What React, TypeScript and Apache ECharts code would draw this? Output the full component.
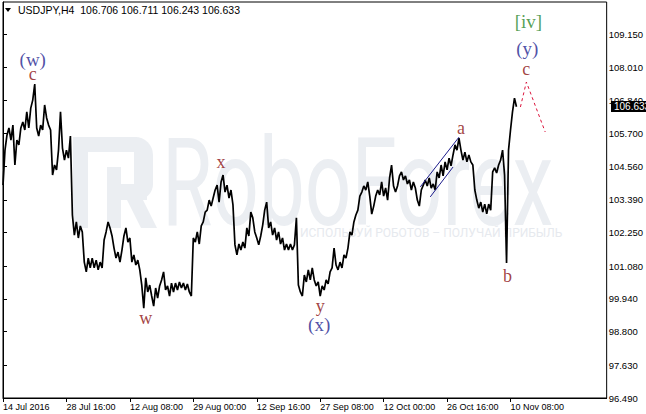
import React, { useEffect, useRef } from 'react';
import * as echarts from 'echarts';

const symbolName = 'USDJPY,H4';
const headerOHLC = ['106.706', '106.711', '106.243', '106.633'];
const lastPrice = 106.633;
const barsPerSample = 2;

const prices = [
  103.90, 105.12, 105.64, 105.89, 105.47, 105.99, 104.60, 105.47, 105.30, 105.89,
  106.10, 105.82, 106.45, 105.89, 106.58, 106.86, 107.42, 105.89, 105.61, 105.99,
  105.82, 106.69, 106.24, 105.99, 105.82, 104.25, 104.60, 104.43, 105.12, 106.45,
  105.19, 104.77, 105.12, 104.84, 105.61,
  102.86, 102.16, 102.62, 102.06, 102.48, 102.27, 101.22, 100.88, 101.36, 101.02,
  101.36, 101.02, 101.29, 100.95, 101.22, 101.02, 101.99, 102.27, 102.62, 102.41,
  102.13, 101.71, 101.36, 101.57, 101.22, 101.64, 102.13, 102.41, 101.92, 102.06,
  101.22, 101.47, 101.12, 101.29, 100.95,
  100.42, 99.62, 100.67, 100.18, 100.42, 100.04, 99.69, 100.32, 99.97, 100.39,
  100.60, 100.88, 100.25, 100.39, 100.04, 100.49, 100.18, 100.49, 100.25, 100.53,
  100.32, 100.49, 100.25, 100.46, 100.18, 100.04, 102.06, 101.92, 102.27, 101.85,
  102.48, 102.62, 102.96, 103.03, 103.38,
  103.17, 103.45, 103.73, 103.90, 103.31, 104.01, 104.25, 103.66, 103.90, 103.45,
  103.73, 103.21, 101.82, 101.47, 101.85, 101.64, 101.92, 101.71, 102.41, 102.13,
  102.96, 102.76, 102.27, 102.06, 101.82, 102.13, 102.51, 103.03, 103.31, 102.41,
  102.62, 102.16, 102.41, 101.99, 102.27,
  101.85, 102.06, 101.64, 101.85, 101.64, 101.85, 101.64, 101.82, 102.76, 100.42,
  100.18, 100.04, 100.77, 100.53, 100.95, 100.60, 101.02, 100.60, 100.39, 100.53,
  100.04, 100.39, 100.25, 100.60, 100.46, 100.88, 101.02, 101.71, 101.12, 100.95,
  101.22, 101.02, 101.47, 101.36, 101.71,
  102.27, 102.16, 102.62, 102.86, 103.03, 103.52, 103.66, 103.87, 103.73, 104.01,
  103.52, 102.89, 103.17, 103.52, 103.73, 103.56, 104.01, 103.52, 103.80, 103.38,
  104.15, 104.60, 103.87, 103.66, 103.87, 104.22, 104.36, 104.08, 104.22, 103.94,
  104.08, 103.73, 104.01, 103.80, 103.38,
  103.17, 103.73, 103.90, 104.08, 103.87, 104.15, 103.80, 103.94, 103.73, 104.36,
  104.15, 104.60, 104.22, 104.71, 104.43, 104.84, 104.57, 104.95, 105.30, 105.12,
  105.54, 105.12, 104.77, 105.05, 104.71, 104.95, 104.71, 104.60, 103.73, 103.38,
  103.10, 103.31, 102.96, 103.24, 102.90,
  103.24, 103.03, 104.36, 104.50, 104.32, 104.60, 104.77, 105.12, 104.25, 101.19,
  105.12, 105.82, 106.45, 106.93, 106.63,
];

const timeTicks = [0, 64, 128, 192, 256, 320, 384, 448, 512];
const timeLabels = [
  '14 Jul 2016', '28 Jul 16:00', '12 Aug 08:00', '29 Aug 00:00', '12 Sep 16:00',
  '27 Sep 08:00', '12 Oct 00:00', '26 Oct 16:00', '10 Nov 08:00',
];
const priceTicks = [96.49, 97.63, 98.8, 99.94, 101.08, 102.25, 103.39, 104.56, 105.7, 106.84, 108.01, 109.15];
const priceMin = 96.49;
const priceMax = 110.275;
const barMax = 609;

const waveLabels = [
  { bar: 30, price: 108.26, text: '(w)', kind: 'blue' },
  { bar: 30, price: 107.78, text: 'c', kind: 'red' },
  { bar: 144, price: 99.27, text: 'w', kind: 'red' },
  { bar: 220, price: 104.7, text: 'x', kind: 'red' },
  { bar: 320, price: 99.7, text: 'y', kind: 'red' },
  { bar: 319, price: 99.05, text: '(x)', kind: 'blue' },
  { bar: 462, price: 105.89, text: 'a', kind: 'red' },
  { bar: 509, price: 100.74, text: 'b', kind: 'red' },
  { bar: 530, price: 109.58, text: '[iv]', kind: 'green' },
  { bar: 529, price: 108.64, text: '(y)', kind: 'blue' },
  { bar: 528, price: 107.94, text: 'c', kind: 'red' },
];
const channelUpper = [[421, 103.84], [460, 105.57]];
const channelLower = [[431, 103.49], [454, 104.53]];
const projection = [[522, 106.62], [528, 107.49], [547, 105.75]];

const kindColor: Record<string, string> = { blue: '#24248f', red: '#8b1010', green: '#2a862a' };
const kindSize: Record<string, number> = { blue: 19, red: 18, green: 19 };

export default function App() {
  const ref = useRef<HTMLDivElement>(null);
  useEffect(() => {
    if (!ref.current) return;
    const chart = echarts.init(ref.current, null, { renderer: 'svg' });
    chart.setOption({
      animation: false,
      backgroundColor: '#fff',
      grid: { left: 2, top: 2, right: 35, bottom: 16, show: true, borderColor: '#000', borderWidth: 1, backgroundColor: 'transparent' },
      xAxis: {
        type: 'value', min: 0, max: barMax,
        axisLine: { show: true, lineStyle: { color: '#000', width: 1 } },
        axisTick: { show: true, customValues: timeTicks, length: 4, lineStyle: { color: '#000' } },
        axisLabel: {
          customValues: timeTicks,
          formatter: (v: number) => timeLabels[timeTicks.indexOf(v)] ?? '',
          align: 'left', fontSize: 9, fontFamily: 'Liberation Sans', color: '#000', margin: 4,
        },
        splitLine: { show: false },
      },
      yAxis: {
        type: 'value', position: 'right', min: priceMin, max: priceMax,
        axisLine: { show: true, lineStyle: { color: '#000', width: 1 } },
        axisTick: { show: true, customValues: priceTicks, length: 4, lineStyle: { color: '#000' } },
        axisLabel: {
          customValues: priceTicks,
          formatter: (v: number) => v.toFixed(3),
          fontSize: 9.5, fontFamily: 'Liberation Sans', color: '#000', margin: 2,
        },
        splitLine: { show: false },
      },
      series: [
        {
          type: 'line', data: prices.map((p, i) => [i * barsPerSample, p]), showSymbol: false,
          lineStyle: { color: '#000', width: 1.7 }, z: 3,
        },
        { type: 'line', data: channelUpper, showSymbol: false, lineStyle: { color: '#1c1c8c', width: 1 }, z: 4 },
        { type: 'line', data: channelLower, showSymbol: false, lineStyle: { color: '#1c1c8c', width: 1 }, z: 4 },
        { type: 'line', data: projection, showSymbol: false, clip: false, lineStyle: { color: '#dc143c', width: 1, type: [3, 3] }, z: 4 },
        {
          type: 'scatter', symbolSize: 1, itemStyle: { color: 'transparent' }, clip: false, z: 5,
          data: waveLabels.map((w) => ({
            value: [w.bar, w.price],
            label: {
              show: true, position: 'inside', formatter: w.text,
              color: kindColor[w.kind], fontSize: kindSize[w.kind], fontFamily: 'Liberation Serif',
            },
          })),
        },
      ],
    });
    const yLast = chart.convertToPixel({ yAxisIndex: 0 }, lastPrice) as number;
    const wm = '#ebeef2';
    chart.setOption({
      graphic: [
        {
          type: 'group', z: 1, silent: true,
          children: [
            { type: 'rect', shape: { x: 73, y: 137, width: 15, height: 91 }, style: { fill: wm } },
            { type: 'rect', shape: { x: 73, y: 137, width: 64, height: 15 }, style: { fill: wm } },
            { type: 'rect', shape: { x: 134, y: 137, width: 19, height: 63, r: [0, 18, 16, 0] }, style: { fill: wm } },
            { type: 'rect', shape: { x: 107, y: 184, width: 40, height: 16 }, style: { fill: wm } },
            { type: 'rect', shape: { x: 107, y: 167, width: 14, height: 61 }, style: { fill: wm } },
            { type: 'polygon', shape: { points: [[127, 200], [143, 200], [157, 228], [141, 228]] }, style: { fill: wm } },
            {
              type: 'text', x: 162, y: 183, scaleX: 0.67,
              style: { text: 'RoboForex', fontSize: 122, fontFamily: 'Roboto', fill: wm, verticalAlign: 'middle' },
            },
            {
              type: 'text', x: 300, y: 233,
              style: { text: 'ИСПОЛЬЗУЙ РОБОТОВ – ПОЛУЧАЙ ПРИБЫЛЬ', fontSize: 12, fontFamily: 'Roboto', fill: '#e6e9ee', verticalAlign: 'middle' },
            },
          ],
        },
        { type: 'polygon', shape: { points: [[5, 8], [11, 8], [8, 12]] }, style: { fill: '#000' }, z: 50 },
        {
          type: 'text', x: 18, y: 10, z: 50,
          style: { text: symbolName + '  ' + headerOHLC.join(' '), fontSize: 10.5, fontFamily: 'Liberation Sans', fill: '#000', verticalAlign: 'middle' },
        },
        { type: 'rect', shape: { x: 611, y: yLast - 5.5, width: 40, height: 11 }, style: { fill: '#000' }, z: 100 },
        {
          type: 'text', x: 614, y: yLast, z: 101,
          style: { text: lastPrice.toFixed(3), fontSize: 10, fontFamily: 'Liberation Sans', fill: '#fff', verticalAlign: 'middle' },
        },
      ],
    });
    return () => chart.dispose();
  }, []);
  return <div ref={ref} style={{ position: 'fixed', left: 0, top: 0, width: 646, height: 414, background: '#fff' }} />;
}
